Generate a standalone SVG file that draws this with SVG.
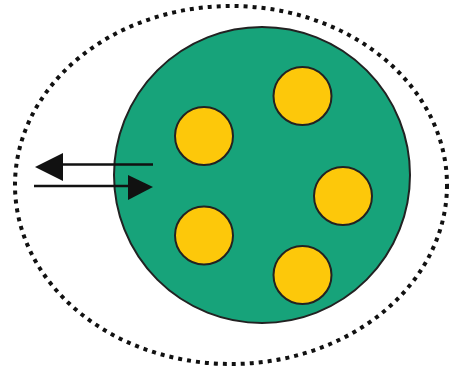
<svg xmlns="http://www.w3.org/2000/svg" width="456" height="373" viewBox="0 0 456 373">
<style>
.outer{fill:none;stroke:#111;stroke-width:4;stroke-dasharray:4 5}
.cell{fill:#17a37a;stroke:#222;stroke-width:2}
.org{fill:#fdc80a;stroke:#222;stroke-width:2}
.ln{stroke:#111;stroke-width:2.5;fill:none}
.hd{fill:#111}
</style>
<rect width="456" height="373" fill="#fff"/>
<g id="outer"><ellipse class="outer" cx="231" cy="185" rx="216" ry="179"/></g>
<g id="cell"><circle class="cell" cx="262" cy="175" r="148"/></g>
<g id="o1"><circle class="org" cx="204" cy="136" r="29"/></g>
<g id="o2"><circle class="org" cx="302.5" cy="96" r="29"/></g>
<g id="o3"><circle class="org" cx="343" cy="196" r="29"/></g>
<g id="o4"><circle class="org" cx="204" cy="235.5" r="29"/></g>
<g id="o5"><circle class="org" cx="302.5" cy="275" r="29"/></g>
<g id="connectors">
<line class="ln" x1="153" y1="164.5" x2="50" y2="164.5"/>
<polygon class="hd" points="35,167 63,153 63,181"/>
<line class="ln" x1="34" y1="186" x2="135" y2="186"/>
<polygon class="hd" points="153,187 128,175 128,200"/>
</g>
</svg>
